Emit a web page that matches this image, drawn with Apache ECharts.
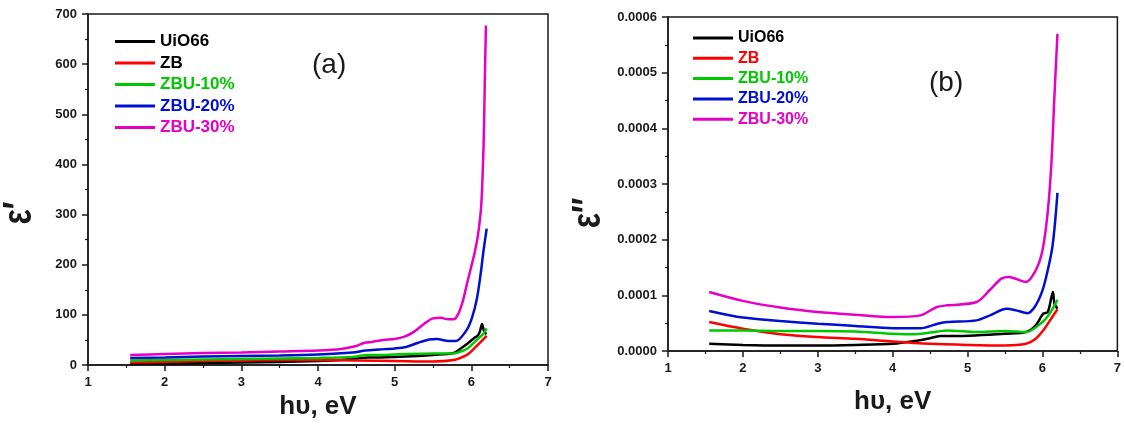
<!DOCTYPE html>
<html>
<head>
    <meta charset="UTF-8">
    <title>ε′ / ε″ vs hυ</title>
    <script src="https://cdn.jsdelivr.net/npm/echarts@6/dist/echarts.min.js"></script>
    <style>
        body { margin: 0; background: #fff; }
        #chart { width: 1124px; height: 425px; }
    </style>
</head>
<body>
    <div id="chart"></div>
    <script>
        // series names and colours
        const names = ['UiO66', 'ZB', 'ZBU-10%', 'ZBU-20%', 'ZBU-30%'];
        const colors = ['#000000', '#ff0000', '#00c800', '#0010d0', '#e600c6'];

        // (a) real part ε′ : [hυ (eV), value]
        const realUiO66 = [[1.55,2],[2,3],[2.5,4],[3,5],[3.5,6],[4,8],[4.3,10],[4.5,13],[4.65,15],[4.8,15],[5,16],[5.3,18],[5.5,20],[5.77,24],[5.88,35],[5.96,44],[6.03,53],[6.08,58],[6.11,66],[6.14,82],[6.16,70],[6.18,64],[6.2,62]];
        const realZB = [[1.55,5],[2,6],[2.5,8],[3,9],[3.5,10],[4,10],[4.5,9],[5,8],[5.5,7],[5.77,10],[5.9,17],[5.96,22],[6.05,35],[6.13,47],[6.2,58]];
        const realZBU10 = [[1.55,9],[2,10],[2.5,11],[3,12],[3.5,13],[4,14],[4.45,16],[4.65,20],[4.8,20],[5,21],[5.5,23],[5.77,23],[5.88,28],[5.95,33],[6.03,44],[6.1,54],[6.16,63],[6.2,73]];
        const realZBU20 = [[1.55,14],[2,15],[2.5,17],[3,18],[3.5,19],[4,21],[4.45,25],[4.62,29],[4.8,31],[5,33],[5.15,36],[5.3,44],[5.45,51],[5.55,52],[5.7,48],[5.8,48],[5.94,70],[6.01,95],[6.07,130],[6.12,180],[6.16,229],[6.2,272]];
        const realZBU30 = [[1.55,20],[2,22],[2.5,24],[3,25],[3.5,27],[4,29],[4.3,32],[4.5,38],[4.6,44],[4.7,46],[4.85,50],[5,52],[5.12,56],[5.25,66],[5.4,84],[5.5,93],[5.6,94],[5.7,91],[5.77,91],[5.83,102],[5.89,128],[5.94,160],[6,197],[6.05,229],[6.09,263],[6.13,320],[6.16,440],[6.175,560],[6.19,677]];

        // (b) imaginary part ε″
        const imagUiO66 = [[1.55,0.000013],[2,0.000011],[2.5,0.000010],[3,0.000010],[3.5,0.000011],[4,0.000013],[4.3,0.000018],[4.5,0.000023],[4.65,0.000027],[4.8,0.000027],[5.1,0.000028],[5.5,0.000031],[5.78,0.000034],[5.91,0.000046],[6.01,0.000067],[6.07,0.000070],[6.12,0.000097],[6.14,0.000106],[6.16,0.000085],[6.2,0.000076]];
        const imagZB = [[1.55,0.000052],[2,0.000040],[2.5,0.000030],[3,0.000025],[3.5,0.000022],[4,0.000017],[4.5,0.000013],[5,0.000011],[5.5,0.000010],[5.78,0.000013],[5.91,0.000022],[6.01,0.000037],[6.1,0.000055],[6.2,0.000075]];
        const imagZBU10 = [[1.55,0.000037],[2,0.000037],[2.5,0.000036],[3,0.000036],[3.5,0.000035],[4,0.000031],[4.3,0.000030],[4.6,0.000035],[4.73,0.000037],[5.12,0.000034],[5.5,0.000036],[5.78,0.000034],[6,0.000052],[6.1,0.000068],[6.2,0.000092]];
        const imagZBU20 = [[1.55,0.000072],[2,0.000060],[2.5,0.000054],[3,0.000049],[3.5,0.000045],[4,0.000041],[4.37,0.000041],[4.6,0.000049],[4.73,0.000052],[5.12,0.000055],[5.3,0.000064],[5.52,0.000076],[5.65,0.000073],[5.8,0.000068],[5.9,0.000080],[6,0.000109],[6.07,0.000145],[6.13,0.000185],[6.16,0.000220],[6.18,0.000250],[6.2,0.000284]];
        const imagZBU30 = [[1.55,0.000106],[2,0.000090],[2.5,0.000078],[3,0.000070],[3.5,0.000065],[4,0.000061],[4.37,0.000064],[4.59,0.000079],[4.73,0.000082],[5.12,0.000088],[5.3,0.000110],[5.45,0.000130],[5.55,0.000133],[5.78,0.000124],[5.91,0.000145],[6,0.000181],[6.07,0.000250],[6.12,0.000340],[6.16,0.000460],[6.2,0.000570]];

        const realData = [realUiO66, realZB, realZBU10, realZBU20, realZBU30];
        const imagData = [imagUiO66, imagZB, imagZBU10, imagZBU20, imagZBU30];

        const font = 'Arial, "Liberation Sans", sans-serif';
        const ink = '#1a1a1a';

        function xAxisFor(gridIndex, gap) {
            return {
                type: 'value', gridIndex: gridIndex, min: 1, max: 7, interval: 1,
                name: 'hυ, eV', nameLocation: 'middle', nameGap: gap,
                nameTextStyle: { fontSize: 26, fontWeight: 'bold', color: ink, fontFamily: font },
                axisLine: { lineStyle: { color: ink, width: 1.5 } },
                axisTick: { length: 6, lineStyle: { color: ink, width: 1.5 } },
                minorTick: { show: true, splitNumber: 2, length: 3, lineStyle: { color: ink, width: 1.2 } },
                axisLabel: { fontSize: 13, fontWeight: 'bold', color: ink, fontFamily: font, margin: 11 },
                splitLine: { show: false }
            };
        }

        function yAxisFor(gridIndex, max, interval, fmt) {
            return {
                type: 'value', gridIndex: gridIndex, min: 0, max: max, interval: interval,
                axisLine: { show: true, lineStyle: { color: ink, width: 1.5 } },
                axisTick: { show: true, length: 6, lineStyle: { color: ink, width: 1.5 } },
                minorTick: { show: true, splitNumber: 2, length: 3, lineStyle: { color: ink, width: 1.2 } },
                axisLabel: { fontSize: 13, fontWeight: 'bold', color: ink, fontFamily: font, margin: 11, formatter: fmt },
                splitLine: { show: false }
            };
        }

        function legendFor(left, top, gap, size, zbColor) {
            return {
                orient: 'vertical', left: left, top: top, itemGap: gap,
                icon: 'rect', itemWidth: 40, itemHeight: 3,
                textStyle: { fontSize: size, fontWeight: 'bold', fontFamily: font },
                data: names.map((n, i) => ({
                    name: n,
                    textStyle: { color: i === 1 ? zbColor : colors[i] }
                }))
            };
        }

        const series = [];
        names.forEach((n, i) => {
            series.push({
                name: n, type: 'line', xAxisIndex: 0, yAxisIndex: 0,
                data: realData[i], smooth: 0.3, symbol: 'none',
                lineStyle: { color: colors[i], width: 2.5 }, itemStyle: { color: colors[i] }
            });
            series.push({
                name: n, type: 'line', xAxisIndex: 1, yAxisIndex: 1,
                data: imagData[i], smooth: 0.3, symbol: 'none',
                lineStyle: { color: colors[i], width: 2.5 }, itemStyle: { color: colors[i] }
            });
        });

        const chart = echarts.init(document.getElementById('chart'));
        chart.setOption({
            animation: false,
            grid: [
                { left: 88, top: 14, width: 460, height: 351, show: true, borderColor: ink, borderWidth: 1.5, backgroundColor: 'transparent' },
                { left: 668, top: 17, width: 455, height: 334, show: true, borderColor: ink, borderWidth: 1.5, backgroundColor: 'transparent' }
            ],
            xAxis: [xAxisFor(0, 27), xAxisFor(1, 38)],
            yAxis: [
                yAxisFor(0, 700, 100, v => String(v)),
                yAxisFor(1, 0.0006, 0.0001, v => v.toFixed(4))
            ],
            legend: [
                legendFor(110, 28, 4.5, 17, '#000000'),
                legendFor(688, 25, 4.3, 16, '#ff0000')
            ],
            graphic: [
                { type: 'text', left: 312, top: 51, style: { text: '(a)', fontSize: 28, fill: ink, fontFamily: font } },
                { type: 'text', left: 929, top: 69, style: { text: '(b)', fontSize: 28, fill: ink, fontFamily: font } },
                { type: 'text', x: 20, y: 213, rotation: Math.PI / 2, scaleX: 0.8, style: { text: 'ε′', fontSize: 40, fontWeight: 'bold', fill: ink, fontFamily: font, align: 'center', verticalAlign: 'middle' } },
                { type: 'text', x: 589, y: 213, rotation: Math.PI / 2, scaleX: 0.8, style: { text: 'ε″', fontSize: 40, fontWeight: 'bold', fill: ink, fontFamily: font, align: 'center', verticalAlign: 'middle' } }
            ],
            series: series
        });
    </script>
</body>
</html>
